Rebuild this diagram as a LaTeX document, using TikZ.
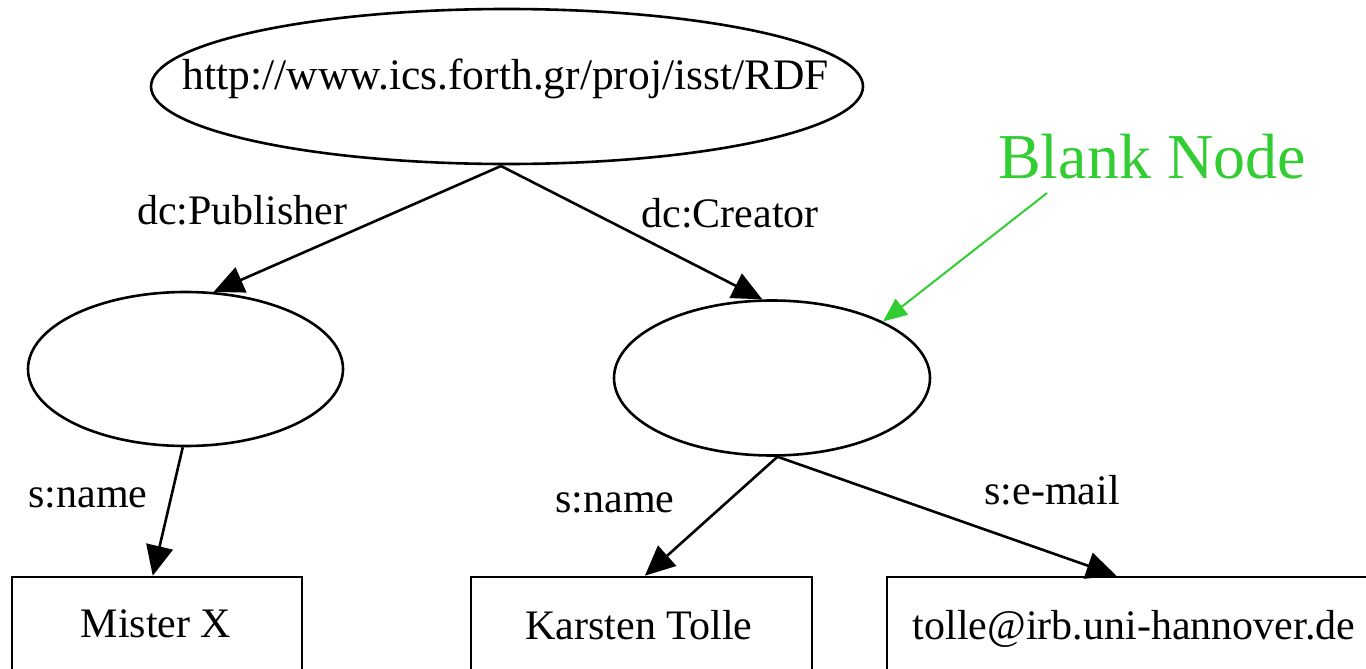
\documentclass[tikz,border=0pt]{standalone}
\usepackage{fontspec}
\setmainfont{Liberation Serif}
\usetikzlibrary{arrows.meta,shapes.geometric}
\definecolor{blankgreen}{RGB}{50,205,50}
\tikzset{
  res/.style={ellipse, draw, line width=2.6pt, inner sep=0pt},
  lit/.style={rectangle, draw, line width=2.6pt, inner sep=0pt, minimum height=94pt},
  lbl/.style={font=\fontsize{42}{42}\selectfont, inner sep=0pt},
  edge/.style={line width=2.6pt, -{Triangle[length=30pt,width=27pt]}},
  note/.style={font=\fontsize{64}{64}\selectfont, text=blankgreen, inner sep=0pt},
  noteedge/.style={blankgreen, line width=2pt, -{Triangle[length=24pt,width=20pt]}}
}
\begin{document}
\begin{tikzpicture}[x=1pt,y=-1pt]
\useasboundingbox (0,0) rectangle (1366,669);
\clip (0,0) rectangle (1366,669);
% nodes
\node[res, minimum width=712pt, minimum height=155pt] (root) at (507,86.5) {};
\node[lbl, anchor=base, font=\fontsize{43.5}{43.5}\selectfont] (roottxt) at (506,89) {http://www.ics.forth.gr/proj/isst/RDF};
\node[res, minimum width=315pt, minimum height=154pt] (bl) at (185.5,369) {};
\node[res, minimum width=316pt, minimum height=155pt] (br) at (772,378) {};
\node[lit, minimum width=290pt] (mx) at (157,624) {};
\node[lbl, anchor=base] (mxt) at (156,637) {Mister X};
\node[lit, minimum width=341pt] (kt) at (641.5,624) {};
\node[lbl, anchor=base] (ktt) at (639,639) {Karsten Tolle};
\node[lit, minimum width=494pt] (em) at (1134,624) {};
\node[lbl, anchor=base] (emt) at (1134,639) {tolle@irb.uni-hannover.de};
% edge labels
\node[lbl] (l1) at (242,210) {dc:Publisher};
\node[lbl] (l2) at (730,213) {dc:Creator};
\node[lbl] (l3) at (88,498) {s:name};
\node[lbl] (l4) at (615,503) {s:name};
\node[lbl] (l5) at (1052,490) {s:e-mail};
% edges
\coordinate (rootb) at (501,166);
\draw[edge] (rootb) -- (bl.70);
\draw[edge] (rootb) -- (br.97);
\draw[edge] (bl.-92) -- (mx.95);
\draw[edge] (br.-86) -- (kt.86);
\draw[edge] (br.-86) -- (em.110);
% annotation
\node[note] (bn) at (1152,157) {Blank Node};
\coordinate (bnstart) at (1047,193);
\draw[noteedge] (bnstart) -- (br.27);
\end{tikzpicture}
\end{document}
